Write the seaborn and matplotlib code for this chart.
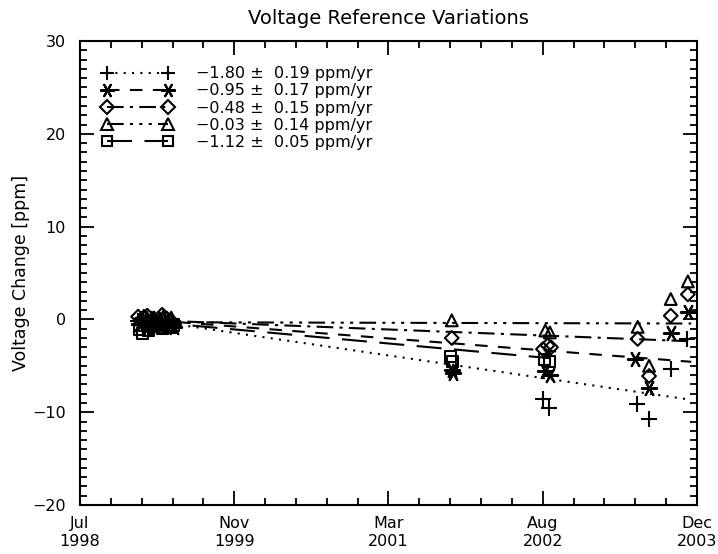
import numpy as np
import pandas as pd
import matplotlib
matplotlib.use("Agg")
import matplotlib.pyplot as plt
from matplotlib.ticker import AutoMinorLocator, MultipleLocator
from matplotlib.lines import Line2D
import seaborn as sns

# series data (decimal year, ppm)
t_plus = [1999.05, 1999.08, 1999.11, 1999.14, 1999.17, 1999.20, 1999.24, 1999.28, 1999.32, 1999.35,
          2002.60, 2002.65, 2003.42, 2003.53, 2003.72, 2003.86]
v_plus = [-0.2, 0.1, -0.6, -0.3, -0.9, -0.5, -0.2, -0.7, -0.4, -0.6,
          -8.6, -9.5, -9.1, -10.7, -5.3, -2.1]

t_ast = [1999.06, 1999.09, 1999.12, 1999.15, 1999.18, 1999.21, 1999.25, 1999.29, 1999.33, 1999.36,
         2001.80, 2001.81, 2002.62, 2002.66, 2003.41, 2003.53, 2003.72, 2003.87]
v_ast = [-0.5, -0.1, -0.8, 0.2, -0.4, -0.7, -0.3, -0.6, -0.5, -0.8,
         -5.4, -5.8, -5.6, -6.0, -4.3, -7.4, -1.5, 0.8]

t_dia = [1999.05, 1999.09, 1999.13, 1999.16, 1999.19, 1999.23, 1999.26, 1999.30, 1999.33, 1999.36,
         2001.80, 2002.60, 2002.64, 2002.67, 2003.43, 2003.53, 2003.72, 2003.87]
v_dia = [0.3, -0.2, 0.4, -0.5, 0.0, -0.3, 0.5, 0.1, -0.2, -0.4,
         -2.0, -3.2, -2.8, -3.0, -2.1, -6.1, 0.4, 2.7]

t_tri = [1999.06, 1999.10, 1999.13, 1999.17, 1999.21, 1999.24, 1999.27, 1999.31, 1999.34, 1999.36,
         2001.80, 2002.62, 2002.66, 2003.43, 2003.53, 2003.72, 2003.87]
v_tri = [0.0, 0.4, -0.2, 0.2, -0.4, 0.1, 0.3, -0.1, 0.2, -0.3,
         -0.1, -1.2, -1.4, -0.8, -5.0, 2.2, 4.1]

t_sq = [1999.06, 1999.09, 1999.11, 1999.14, 1999.18, 1999.22, 1999.26, 1999.30, 1999.33, 1999.36,
        2001.79, 2001.81, 2002.61, 2002.66]
v_sq = [-1.1, -1.5, -0.6, -1.2, -0.8, -0.4, -1.0, -0.7, -0.9, -0.6,
        -4.0, -4.5, -4.3, -4.5]

# fitted trends
slopes = [-1.80, -0.95, -0.48, -0.03, -1.12]
errors = [0.19, 0.17, 0.15, 0.14, 0.05]
intercepts = [-0.2, -0.1, -0.1, -0.3, -0.3]
fit_start = [1999.20, 1999.20, 1999.20, 1999.20, 1999.20]
fit_end = [2003.90, 2003.90, 2003.90, 2003.90, 2002.66]

month_labels = ["Jul\n1998", "Nov\n1999", "Mar\n2001", "Aug\n2002", "Dec\n2003"]

times = [t_plus, t_ast, t_dia, t_tri, t_sq]
values = [v_plus, v_ast, v_dia, v_tri, v_sq]
markers = ["+", (6, 2, 90), "D", "^", "s"]
msizes = [11, 11, 7, 8.5, 8]
styles = [(0, (1, 3)), (0, (6, 5)), (0, (8, 3, 1.5, 3)),
          (0, (8, 3, 1.5, 3, 1.5, 3, 1.5, 3)), (0, (12, 6))]

sns.set_style("ticks")
plt.rcParams['font.family'] = ['DejaVu Sans']
plt.rcParams['text.color'] = 'black'
plt.rcParams['axes.labelcolor'] = 'black'
plt.rcParams['xtick.color'] = 'black'
plt.rcParams['ytick.color'] = 'black'

fig = plt.figure(figsize=(7.18, 5.54), dpi=100)
ax = fig.add_axes([0.1114, 0.0884, 0.8593, 0.8375])

handles = []
for i in range(5):
    df = pd.DataFrame({"t": times[i], "v": values[i]})
    if i < 2:
        sns.scatterplot(data=df, x="t", y="v", marker=markers[i], s=msizes[i]**2,
                        color="black", linewidth=1.5, ax=ax, zorder=3)
    else:
        sns.scatterplot(data=df, x="t", y="v", marker=markers[i], s=msizes[i]**2,
                        facecolors="none", edgecolor="black",
                        linewidth=1.5, ax=ax, zorder=3)
    x0, x1 = fit_start[i], fit_end[i]
    fit = pd.DataFrame({"t": [x0, x1],
                        "v": [intercepts[i], intercepts[i] + slopes[i]*(x1 - x0)]})
    sns.lineplot(data=fit, x="t", y="v", color="black", linewidth=1.5,
                 linestyle=styles[i], ax=ax, zorder=2)
    lab = "\u2212%.2f \u00b1  %.2f ppm/yr" % (abs(slopes[i]), errors[i])
    handles.append((Line2D([], [], color="black", linestyle=styles[i], linewidth=1.5,
                           marker=markers[i], markersize=msizes[i]*0.95,
                           markerfacecolor="none", markeredgewidth=1.5), lab))

ax.legend([h for h, _ in handles], [l for _, l in handles], loc="upper left",
          bbox_to_anchor=(0.036, 0.946), frameon=False, numpoints=2,
          handlelength=4.4, fontsize=11.5, labelspacing=0.14,
          handletextpad=1.5, borderpad=0, borderaxespad=0)

xlim = (1998.54, 2003.95)
ax.set_xlim(xlim)
ax.set_ylim(-20, 30)
ax.set_xticks(np.linspace(xlim[0], xlim[1], 5))
ax.set_xticklabels(month_labels)
ax.xaxis.set_minor_locator(AutoMinorLocator(5))
ax.yaxis.set_major_locator(MultipleLocator(10))
ax.yaxis.set_minor_locator(MultipleLocator(1))
ax.tick_params(which="both", direction="in", top=True, right=True, width=1.3,
               labelsize=11.5)
ax.tick_params(which="major", length=10)
ax.tick_params(which="minor", length=5)
ax.tick_params(axis="x", which="major", pad=8)
ax.tick_params(axis="y", which="major", pad=10)
for sp in ax.spines.values():
    sp.set_linewidth(1.5)
    sp.set_color("black")

ax.set_xlabel("")
ax.set_ylabel("Voltage Change [ppm]", fontsize=12.5, labelpad=2)
ax.set_title("Voltage Reference Variations", fontsize=14, pad=12)

fig.savefig("out.png", dpi=100)
